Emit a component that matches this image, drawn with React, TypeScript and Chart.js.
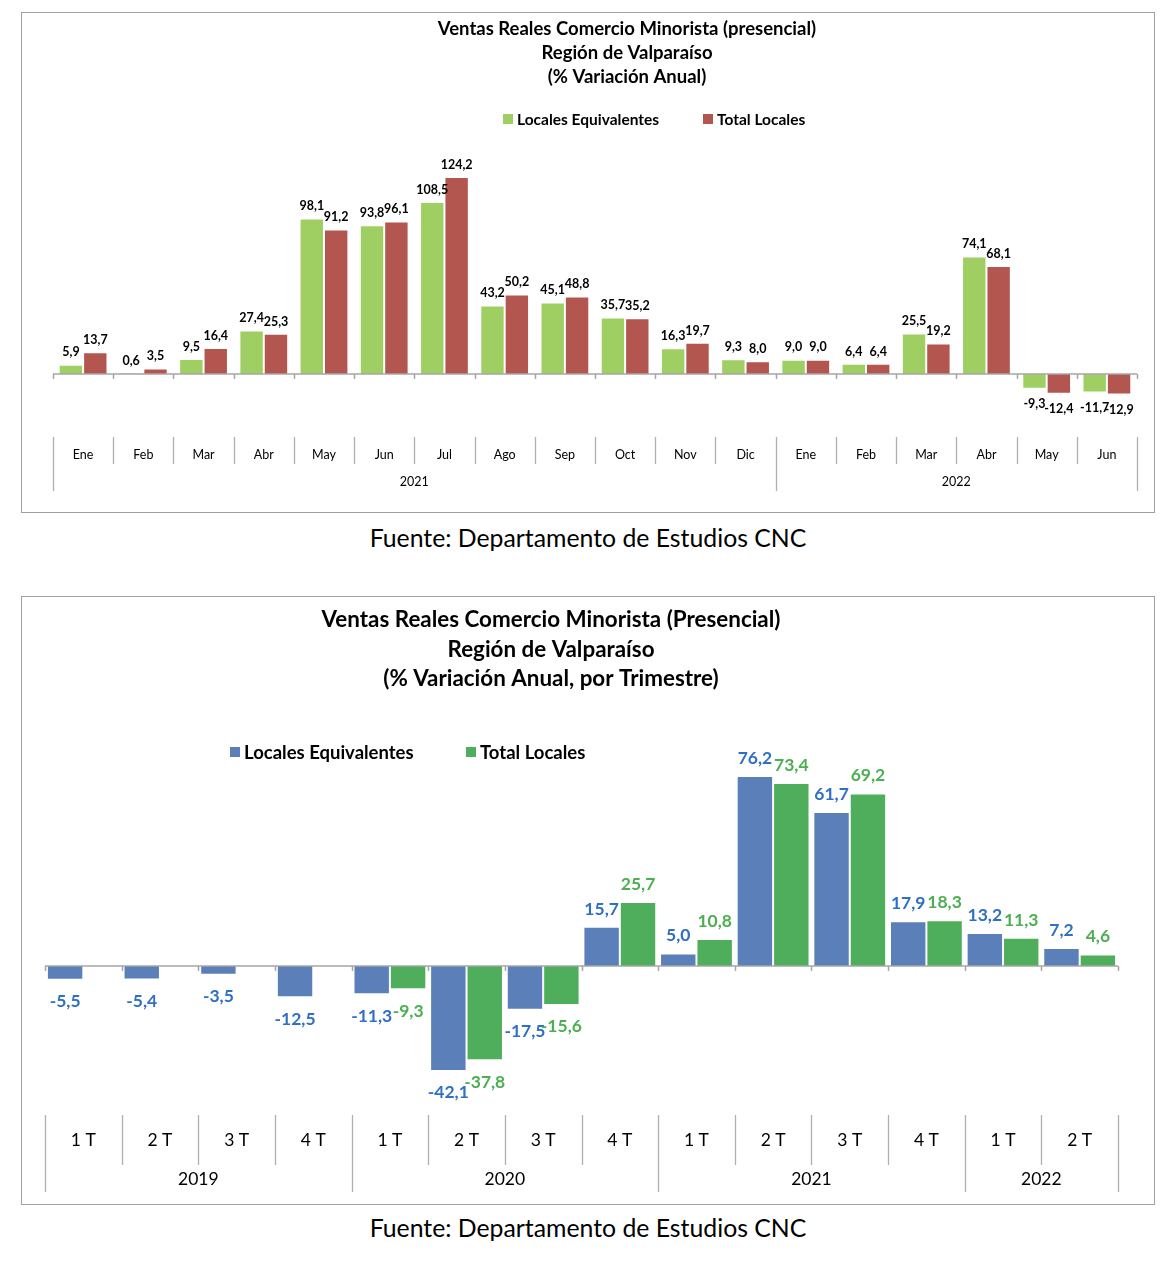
import React, { useEffect, useRef } from "react";
import { Chart, registerables } from "chart.js";
Chart.register(...registerables);

// ---------- Chart 1 data ----------
const months = ["Ene","Feb","Mar","Abr","May","Jun","Jul","Ago","Sep","Oct","Nov","Dic","Ene","Feb","Mar","Abr","May","Jun"];
const monthYears = [{ label: "2021", from: 0, to: 11 }, { label: "2022", from: 12, to: 17 }];
const equivMonthly = [5.9,0.6,9.5,27.4,98.1,93.8,108.5,43.2,45.1,35.7,16.3,9.3,9.0,6.4,25.5,74.1,-9.3,-11.7];
const totalMonthly = [13.7,3.5,16.4,25.3,91.2,96.1,124.2,50.2,48.8,35.2,19.7,8.0,9.0,6.4,19.2,68.1,-12.4,-12.9];
const title1 = ["Ventas Reales Comercio Minorista (presencial)", "Región de Valparaíso", "(% Variación Anual)"];

// ---------- Chart 2 data ----------
const quarters = ["1 T","2 T","3 T","4 T","1 T","2 T","3 T","4 T","1 T","2 T","3 T","4 T","1 T","2 T"];
const quarterYears = [
  { label: "2019", from: 0, to: 3 },
  { label: "2020", from: 4, to: 7 },
  { label: "2021", from: 8, to: 11 },
  { label: "2022", from: 12, to: 13 },
];
const equivQuarterly = [-5.5,-5.4,-3.5,-12.5,-11.3,-42.1,-17.5,15.7,5.0,76.2,61.7,17.9,13.2,7.2];
const totalQuarterly: (number | null)[] = [null,null,null,null,-9.3,-37.8,-15.6,25.7,10.8,73.4,69.2,18.3,11.3,4.6];
const title2 = ["Ventas Reales Comercio Minorista (Presencial)", "Región de Valparaíso", "(% Variación Anual, por Trimestre)"];

const FONT = "Lato, 'Open Sans', sans-serif";

const fmt = (v: number) => v.toFixed(1).replace(".", ",");

type Cfg = {
  labels: string[];
  years: { label: string; from: number; to: number }[];
  s1: { label: string; data: (number | null)[]; color: string; labelColor: string };
  s2: { label: string; data: (number | null)[]; color: string; labelColor: string };
  title: string[];
  titleX: number; titleY0: number; titleStep: number; titleSize: number;
  legendX: number[]; legendY: number; legendSize: number; legendBox: number;
  yMin: number; yMax: number;
  padL: number; padR: number; padT: number; padB: number;
  catPct: number;
  valSize: number; valOffPos: number; valOffNeg: number;
  catY: number; yearY: number; sepTop: number; sepMid: number; sepBot: number; catSize: number;
  height: number;
};

function makePlugin(c: Cfg) {
  return {
    id: "custom" + Math.round(c.titleSize),
    afterDatasetsDraw(chart: any) {
      const ctx = chart.ctx as CanvasRenderingContext2D;
      const x = chart.scales.x;
      const y = chart.scales.y;
      const n = c.labels.length;
      const left = chart.chartArea.left;
      const right = chart.chartArea.right;
      const step = (right - left) / n;
      const y0 = y.getPixelForValue(0);
      ctx.save();
      // zero axis line and ticks
      ctx.strokeStyle = "#a6a6a6";
      ctx.lineWidth = 1.5;
      ctx.beginPath();
      ctx.moveTo(left, y0);
      ctx.lineTo(right, y0);
      for (let i = 0; i <= n; i++) {
        const bx = Math.round(left + i * step) + 0.5;
        ctx.moveTo(bx, y0);
        ctx.lineTo(bx, y0 + 5);
      }
      ctx.stroke();
      // value labels
      [c.s1, c.s2].forEach((s, di) => {
        const meta = chart.getDatasetMeta(di);
        ctx.fillStyle = s.labelColor;
        ctx.font = `bold ${c.valSize}px ${FONT}`;
        ctx.textAlign = "center";
        meta.data.forEach((el: any, i: number) => {
          const v = s.data[i];
          if (v === null || v === undefined) return;
          if (v >= 0) {
            ctx.textBaseline = "bottom";
            ctx.fillText(fmt(v), el.x, el.y - c.valOffPos);
          } else {
            ctx.textBaseline = "top";
            ctx.fillText(fmt(v), el.x, el.y + c.valOffNeg);
          }
        });
      });
      // category axis
      ctx.strokeStyle = "#b0b0b0";
      ctx.lineWidth = 1.3;
      ctx.beginPath();
      const yearBounds = new Set<number>();
      c.years.forEach((yr) => { yearBounds.add(yr.from); yearBounds.add(yr.to + 1); });
      for (let i = 0; i <= n; i++) {
        const bx = Math.round(left + i * step) + 0.5;
        ctx.moveTo(bx, c.sepTop);
        ctx.lineTo(bx, yearBounds.has(i) ? c.sepBot : c.sepMid);
      }
      ctx.stroke();
      ctx.fillStyle = "#000";
      ctx.font = `${c.catSize}px ${FONT}`;
      ctx.textAlign = "center";
      ctx.textBaseline = "middle";
      c.labels.forEach((lab, i) => {
        ctx.fillText(lab, x.getPixelForValue(i), c.catY);
      });
      c.years.forEach((yr) => {
        const cx = (left + yr.from * step + left + (yr.to + 1) * step) / 2;
        ctx.fillText(yr.label, cx, c.yearY);
      });
      // title
      ctx.font = `bold ${c.titleSize}px ${FONT}`;
      c.title.forEach((t, i) => ctx.fillText(t, c.titleX, c.titleY0 + i * c.titleStep));
      // legend
      ctx.font = `bold ${c.legendSize}px ${FONT}`;
      ctx.textAlign = "left";
      [c.s1, c.s2].forEach((s, i) => {
        const lx = c.legendX[i];
        ctx.fillStyle = s.color;
        ctx.fillRect(lx, c.legendY - c.legendBox / 2, c.legendBox, c.legendBox);
        ctx.fillStyle = "#000";
        ctx.fillText(s.label, lx + c.legendBox + 4, c.legendY + 1);
      });
      ctx.restore();
    },
  };
}

function BarChart({ c }: { c: Cfg }) {
  const ref = useRef<HTMLCanvasElement>(null);
  useEffect(() => {
    if (!ref.current) return;
    const chart = new Chart(ref.current, {
      type: "bar",
      data: {
        labels: c.labels,
        datasets: [
          { label: c.s1.label, data: c.s1.data as any, backgroundColor: c.s1.color, borderColor: "rgba(255,255,255,0.6)", borderWidth: 1 },
          { label: c.s2.label, data: c.s2.data as any, backgroundColor: c.s2.color, borderColor: "rgba(255,255,255,0.6)", borderWidth: 1 },
        ],
      },
      options: {
        animation: false,
        responsive: false,
        devicePixelRatio: 1,
        layout: { padding: { left: c.padL, right: c.padR, top: c.padT, bottom: c.padB } },
        plugins: { legend: { display: false }, title: { display: false }, tooltip: { enabled: false } },
        datasets: { bar: { categoryPercentage: c.catPct, barPercentage: 1 } },
        scales: {
          x: { display: false, offset: true },
          y: { display: false, min: c.yMin, max: c.yMax },
        },
      },
      plugins: [makePlugin(c)],
    });
    return () => chart.destroy();
  }, [c]);
  return <canvas ref={ref} width={1132} height={c.height} style={{ display: "block" }} />;
}

const cfg1: Cfg = {
  labels: months,
  years: monthYears,
  s1: { label: "Locales Equivalentes", data: equivMonthly, color: "#9fcf62", labelColor: "#000" },
  s2: { label: "Total Locales", data: totalMonthly, color: "#b35650", labelColor: "#000" },
  title: title1,
  titleX: 605, titleY0: 16, titleStep: 24, titleSize: 18.5,
  legendX: [481, 681], legendY: 106, legendSize: 15.5, legendBox: 10,
  yMin: -20, yMax: 140,
  padL: 31, padR: 17, padT: 139, padB: 106.3,
  catPct: 0.81,
  valSize: 12.5, valOffPos: 6, valOffNeg: 9,
  catY: 442, yearY: 469, sepTop: 424, sepMid: 451, sepBot: 478, catSize: 12.5,
  height: 499,
};

const cfg2: Cfg = {
  labels: quarters,
  years: quarterYears,
  s1: { label: "Locales Equivalentes", data: equivQuarterly, color: "#5b7fb8", labelColor: "#2f6fc4" },
  s2: { label: "Total Locales", data: totalQuarterly, color: "#4eae5b", labelColor: "#4caf50" },
  title: title2,
  titleX: 529, titleY0: 23, titleStep: 29.5, titleSize: 22.4,
  legendX: [208, 444], legendY: 155, legendSize: 18.5, legendBox: 10,
  yMin: -50, yMax: 90,
  padL: 23, padR: 36, padT: 144.5, padB: 113.3,
  catPct: 0.95,
  valSize: 17.5, valOffPos: 9, valOffNeg: 13,
  catY: 543, yearY: 582, sepTop: 518, sepMid: 568, sepBot: 595, catSize: 17.5,
  height: 607,
};

const boxStyle = (top: number, h: number): React.CSSProperties => ({
  position: "absolute", left: 21, top, width: 1134, height: h,
  border: "1px solid #a0a0a0", boxSizing: "border-box", background: "#fff",
});
const captionStyle = (top: number): React.CSSProperties => ({
  position: "absolute", left: 0, width: 1176, top, textAlign: "center",
  fontFamily: FONT, fontSize: 24.8, color: "#000", lineHeight: "28px",
});

export default function App() {
  return (
    <div style={{ position: "absolute", left: 0, top: 0, width: 1172, height: 1276, background: "#fff" }}>
      <div style={boxStyle(12, 501)}><BarChart c={cfg1} /></div>
      <div style={captionStyle(524)}>Fuente: Departamento de Estudios CNC</div>
      <div style={boxStyle(596, 609)}><BarChart c={cfg2} /></div>
      <div style={captionStyle(1214)}>Fuente: Departamento de Estudios CNC</div>
    </div>
  );
}
